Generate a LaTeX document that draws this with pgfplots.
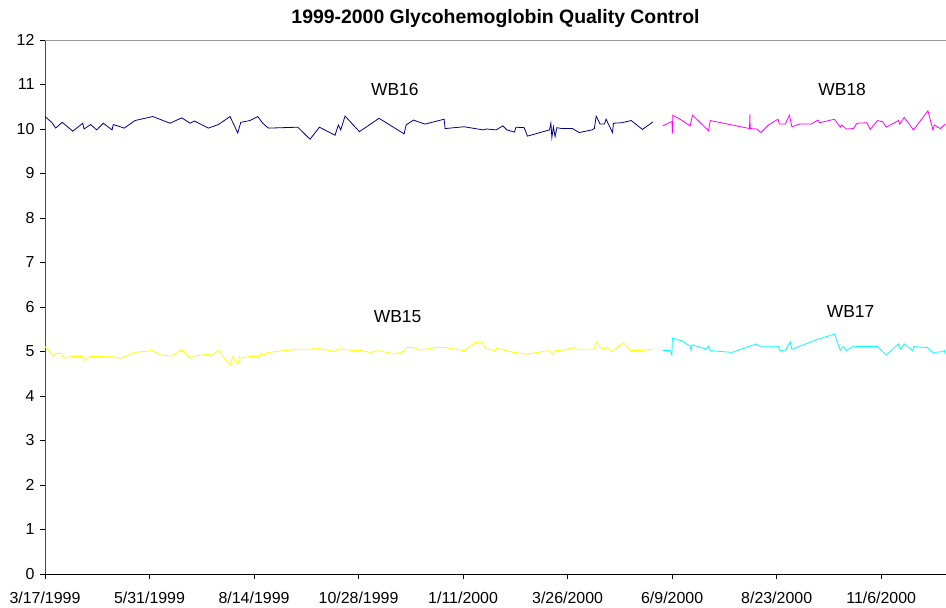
\documentclass[border=0pt]{standalone}
\usepackage{pgfplots}
\pgfplotsset{compat=1.18}
\usepackage{fontspec}
\setmainfont{Liberation Sans}
\definecolor{navyline}{RGB}{0,0,128}
\definecolor{magline}{RGB}{255,0,255}
\definecolor{yelline}{RGB}{255,255,0}
\definecolor{cyaline}{RGB}{0,255,255}
\begin{document}
\begin{tikzpicture}
\useasboundingbox (-45bp,-34bp) rectangle (901bp,574bp);
\begin{axis}[
  at={(0,0)}, anchor=south west,
  scale only axis, width=901bp, height=534bp,
  xmin=0, xmax=646.5, ymin=0, ymax=12,
  axis x line=bottom, axis y line=left,
  axis line style={-, line width=0.8pt},
  x axis line style={black},
  y axis line style={black!70},
  xtick={0,75,150,225,300,375,450,525,600},
  xticklabels={3/17/1999,5/31/1999,8/14/1999,10/28/1999,1/11/2000,3/26/2000,6/9/2000,8/23/2000,11/6/2000},
  ytick={0,1,...,12},
  tick align=outside, major tick length=5bp,
  tick style={black, line width=0.6pt},
  extra y ticks={12}, extra y tick labels={},
  extra y tick style={grid=major, major grid style={black!40, line width=0.9pt}},
  ticklabel style={font=\fontsize{16}{16}\selectfont},
  /pgf/number format/assume math mode=true,
  xticklabel style={yshift=-9bp},
  yticklabel style={xshift=-2bp},
  title={\bfseries 1999-2000 Glycohemoglobin Quality Control},
  title style={font=\fontsize{19.5}{19.5}\selectfont, at={(0.5,1)}, yshift=3bp},
  clip=true,
]
\addplot[navyline, line width=0.8pt] coordinates {
(0,10.28)(4.8,10.15)(7.7,10.02)(12.4,10.15)(19.9,9.95)(27.1,10.13)(28.0,10.0)(32.8,10.1)(37.1,9.98)(41.8,10.13)(48.1,9.98)(49.0,10.1)(56.9,10.02)(64.6,10.19)(77.3,10.28)(89.7,10.13)(98.1,10.25)(104.1,10.13)(107.2,10.18)(117.2,10.02)(124.4,10.1)(132.8,10.28)(138.3,9.91)(140.5,10.15)(147.1,10.19)(152.7,10.28)(156.2,10.13)(160.3,10.02)(181.4,10.04)(190.2,9.77)(196.9,10.04)(208.1,9.86)(210.5,10.09)(212.2,9.98)(215.3,10.29)(225.6,9.94)(239.7,10.24)(257.7,9.89)(259.1,10.09)(264.3,10.2)(272.7,10.11)(286.4,10.22)(287.1,10.01)(300.7,10.05)(314.4,9.98)(317.0,10.0)(323.7,9.98)(328.5,10.07)(331.4,9.98)(336.8,9.93)(338.0,10.04)(343.8,10.03)(346.2,9.84)(362.0,9.98)(363.0,10.13)(363.7,9.81)(364.8,10.05)(366.0,9.83)(367.3,10.03)(370.8,10.01)(378.5,10.01)(383.3,9.92)(392.4,9.98)(394.2,10.01)(395.5,10.29)(398.3,10.11)(401.4,10.11)(402.6,10.22)(407.2,9.92)(407.9,10.13)(413.9,10.14)(420.6,10.19)(428.7,9.99)(436.2,10.16)
};
\addplot[magline, line width=0.8pt] coordinates {
(443.3,10.07)(449.8,10.17)(450.2,9.9)(450.5,10.31)(455.7,10.22)(462.9,10.07)(464.6,10.31)(476.1,9.96)(477.3,10.19)(505.5,10.01)(505.8,10.33)(506.0,10.01)(510.8,10.0)(513.7,9.92)(519.1,10.09)(525.9,10.22)(527.0,10.11)(531.1,10.11)(534.2,10.31)(535.9,10.05)(541.4,10.11)(549.8,10.11)(554.6,10.2)(555.7,10.14)(566.5,10.22)(570.6,10.04)(571.8,10.09)(574.9,10.0)(580.1,10.01)(582.6,10.13)(589.7,10.14)(592.1,9.99)(597.4,10.19)(601.2,10.16)(603.6,10.04)(612.4,10.19)(613.2,10.11)(616.5,10.26)(623.2,9.98)(633.5,10.41)(637.1,9.98)(638.1,10.09)(642.4,10.01)(645.9,10.11)
};
\addplot[yelline, line width=0.8pt] coordinates {
(0,5.11)(5.5,4.9)(7.9,4.96)(12.0,4.95)(13.1,4.85)(19.9,4.89)(27.1,4.89)(28.0,4.8)(32.8,4.89)(49.0,4.88)(54.3,4.85)(64.6,4.98)(77.3,5.02)(83.0,4.92)(90.9,4.9)(98.1,5.04)(104.1,4.85)(107.2,4.9)(117.2,4.94)(118.9,4.9)(124.4,5.02)(132.8,4.69)(134.4,4.88)(138.3,4.71)(139.5,4.88)(140.5,4.85)(147.1,4.89)(153.1,4.89)(155.5,4.96)(156.7,4.92)(160.3,4.98)(181.4,5.05)(190.2,5.05)(193.8,5.08)(208.1,5.0)(210.5,5.06)(221.3,5.02)(225.6,5.03)(233.3,4.98)(239.7,5.02)(250.5,4.94)(257.2,5.0)(259.1,5.09)(264.3,5.09)(268.6,5.03)(280.6,5.09)(287.1,5.09)(300.7,5.02)(308.6,5.2)(313.4,5.22)(316.3,5.06)(323.0,5.02)(324.2,5.07)(336.1,4.98)(345.2,4.94)(362.0,5.02)(364.1,4.94)(366.0,5.02)(372.0,5.03)(379.2,5.09)(381.1,5.05)(394.0,5.05)(395.5,5.22)(398.3,5.09)(400.7,5.05)(402.6,5.09)(407.2,5.01)(415.1,5.2)(420.4,5.02)(427.0,5.02)(436.2,5.05)
};
\addplot[cyaline, line width=0.8pt] coordinates {
(443.3,5.02)(448.6,5.02)(449.8,4.92)(450.2,5.3)(457.0,5.24)(462.9,5.12)(463.6,5.02)(464.2,5.15)(474.9,5.05)(476.1,5.12)(477.3,5.02)(492.9,4.98)(505.5,5.12)(510.8,5.17)(512.7,5.12)(526.3,5.12)(527.0,5.03)(531.1,5.01)(534.7,5.22)(535.9,5.05)(553.9,5.27)(566.5,5.39)(570.6,5.03)(573.0,5.12)(574.9,5.02)(580.1,5.12)(583.7,5.11)(597.4,5.11)(603.6,4.92)(612.4,5.17)(613.6,5.05)(616.5,5.17)(622.8,5.02)(623.2,5.11)(633.2,5.09)(637.1,4.98)(642.4,4.99)(645.3,5.02)(645.9,4.94)
};
\node[font=\fontsize{17.5}{17.5}\selectfont] at (axis cs:251,10.88) {WB16};
\node[font=\fontsize{17.5}{17.5}\selectfont] at (axis cs:572,10.88) {WB18};
\node[font=\fontsize{17.5}{17.5}\selectfont] at (axis cs:253,5.78) {WB15};
\node[font=\fontsize{17.5}{17.5}\selectfont] at (axis cs:578,5.91) {WB17};
\end{axis}
\end{tikzpicture}
\end{document}
